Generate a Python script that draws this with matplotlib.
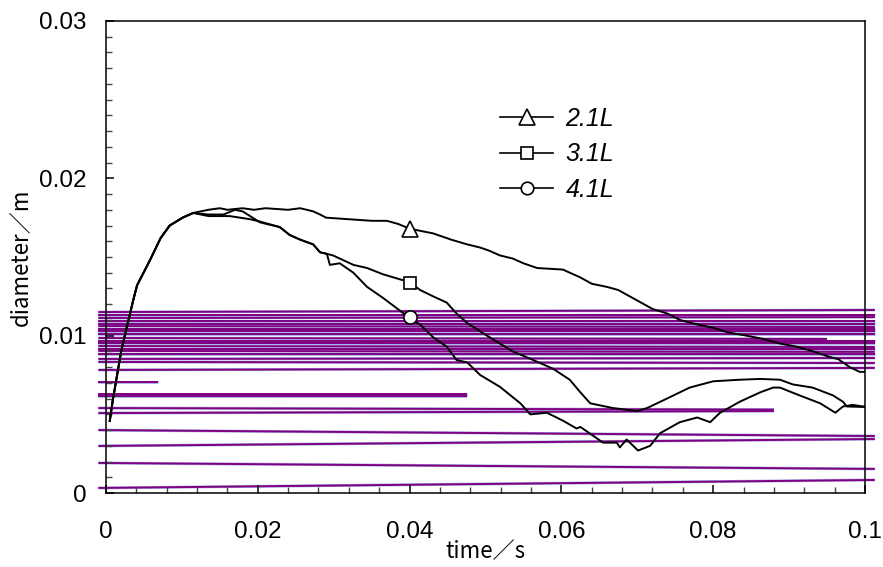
import matplotlib
matplotlib.use("Agg")
import matplotlib.pyplot as plt
from matplotlib.ticker import MultipleLocator, FuncFormatter

# ---- data ----
rise_t = [0.0005, 0.0009, 0.0020, 0.0036, 0.0041, 0.0058, 0.0072, 0.0084, 0.0101, 0.0115]
rise_d = [0.00458, 0.0059, 0.0090, 0.01227, 0.0132, 0.0148, 0.0162, 0.0170, 0.0175, 0.0178]

t_21 = rise_t + [0.0135, 0.0150, 0.0160, 0.0180, 0.0195, 0.0210, 0.0240, 0.0256, 0.0273, 0.0282,
                 0.0290, 0.0320, 0.0350, 0.0370, 0.0385, 0.0400, 0.0431, 0.0455, 0.0476, 0.0493,
                 0.0505, 0.0519, 0.0536, 0.0550, 0.0568, 0.0602, 0.0625, 0.0640, 0.0660, 0.0675,
                 0.0690, 0.0720, 0.0740, 0.0756, 0.0780, 0.0800, 0.0820, 0.0844, 0.0865, 0.0888,
                 0.0910, 0.0932, 0.0950, 0.0965, 0.0980, 0.0993, 0.1000]
d_21 = rise_d + [0.0180, 0.0181, 0.0180, 0.0181, 0.0180, 0.0181, 0.0180, 0.0181, 0.0179, 0.0177,
                 0.0175, 0.0174, 0.0173, 0.0173, 0.0171, 0.0168, 0.0165, 0.0161, 0.0158, 0.0156,
                 0.0154, 0.0151, 0.0149, 0.0146, 0.0143, 0.0142, 0.0137, 0.0133, 0.0131, 0.0129,
                 0.0125, 0.0117, 0.0114, 0.0110, 0.0107, 0.0105, 0.0102, 0.0100, 0.0098, 0.0095,
                 0.0093, 0.0090, 0.0087, 0.0085, 0.0080, 0.0077, 0.0077]

t_31 = rise_t + [0.0135, 0.0155, 0.0170, 0.0180, 0.0203, 0.0229, 0.0242, 0.0256, 0.0273, 0.0282,
                 0.0291, 0.0299, 0.0326, 0.0344, 0.0365, 0.0400, 0.0414, 0.0431, 0.0449, 0.0462,
                 0.0476, 0.0502, 0.0536, 0.0563, 0.0589, 0.0611, 0.0625, 0.0638, 0.0668, 0.0700,
                 0.0713, 0.0739, 0.0769, 0.0800, 0.0835, 0.0862, 0.0888, 0.0905, 0.0931, 0.0958,
                 0.0971, 0.0976, 0.0997, 0.1000]
d_31 = rise_d + [0.0177, 0.0177, 0.0180, 0.0179, 0.0172, 0.0169, 0.0164, 0.0161, 0.0158, 0.0153,
                 0.0152, 0.0151, 0.0145, 0.0143, 0.0139, 0.0134, 0.0129, 0.0125, 0.0121, 0.0114,
                 0.0108, 0.0100, 0.0090, 0.00845, 0.0079, 0.0072, 0.0064, 0.0057, 0.0054, 0.0052,
                 0.0054, 0.0060, 0.0067, 0.0071, 0.0072, 0.00725, 0.0072, 0.0069, 0.0067, 0.0062,
                 0.0058, 0.0055, 0.00547, 0.0055]

t_41 = rise_t + [0.0135, 0.0163, 0.0190, 0.0203, 0.0229, 0.0242, 0.0256, 0.0273, 0.0282, 0.0291,
                 0.0295, 0.0308, 0.0326, 0.0344, 0.0365, 0.0387, 0.0398, 0.0414, 0.0431, 0.0449,
                 0.0462, 0.0476, 0.0493, 0.0519, 0.0546, 0.0559, 0.0581, 0.0602, 0.0620, 0.0625,
                 0.0655, 0.0673, 0.0677, 0.0686, 0.0701, 0.0717, 0.0730, 0.0756, 0.0779, 0.0796,
                 0.0809, 0.0835, 0.0862, 0.0879, 0.0888, 0.0914, 0.0941, 0.0961, 0.0971, 0.0984,
                 0.0997, 0.1000]
d_41 = rise_d + [0.0176, 0.0176, 0.0174, 0.01725, 0.0169, 0.0164, 0.0161, 0.0158, 0.0153, 0.0152,
                 0.0145, 0.0146, 0.0140, 0.0131, 0.0124, 0.0116, 0.0112, 0.0107, 0.0099, 0.0093,
                 0.00845, 0.0083, 0.0075, 0.00675, 0.0057, 0.0050, 0.0051, 0.0046, 0.0041, 0.0042,
                 0.0032, 0.0032, 0.0029, 0.0034, 0.0027, 0.0030, 0.0038, 0.0045, 0.0048, 0.0045,
                 0.0051, 0.0058, 0.0064, 0.0067, 0.0067, 0.0062, 0.0057, 0.0051, 0.0055, 0.0056,
                 0.0055, 0.0055]

mark_t = [0.040, 0.040, 0.040]
mark_d = [0.0168, 0.01335, 0.0112]
series_labels = ["2.1L", "3.1L", "4.1L"]

# stray horizontal strokes that cross the reference picture
stroke_t0 = [-0.001] * 28
stroke_t1 = [0.1013] * 9 + [0.0950] + [0.1013] * 9 + [0.0069, 0.0476, 0.0476, 0.0880, 0.0880,
                                                          0.1013, 0.1013, 0.1013, 0.1013]
stroke_d0 = [0.01150, 0.01131, 0.01112, 0.01093, 0.01074, 0.01061, 0.01042, 0.01030, 0.01011,
             0.00985, 0.00966, 0.00953, 0.00934, 0.00915, 0.00903, 0.00883, 0.00852, 0.00833, 0.00782,
             0.00706, 0.00629, 0.00617, 0.00540, 0.00508, 0.00400, 0.00299, 0.00191, 0.00032]
stroke_d1 = [0.01163, 0.01131, 0.01118, 0.01093, 0.01074, 0.01055, 0.01042, 0.01030, 0.01011,
             0.00979, 0.00966, 0.00953, 0.00928, 0.00915, 0.00897, 0.00883, 0.00858, 0.00826, 0.00795,
             0.00706, 0.00629, 0.00617, 0.00530, 0.00521, 0.00362, 0.00343, 0.00153, 0.00083]

plt.rcParams['font.family'] = ['Liberation Sans', 'DejaVu Sans']
jp = ['Noto Sans CJK JP', 'DejaVu Sans']

fig = plt.figure(figsize=(8.83, 5.67), dpi=100)
ax = fig.add_axes([0.12, 0.1305, 0.8596, 0.8325])

for a, b, c, d in zip(stroke_t0, stroke_t1, stroke_d0, stroke_d1):
    ax.plot([a, b], [c, d], color='#aab4e8', lw=2.1, clip_on=False, zorder=1, solid_capstyle='butt')
    ax.plot([a, b], [c, d], color='#800080', lw=1.4, clip_on=False, zorder=1.1, solid_capstyle='butt')

markers = ['^', 's', 'o']
msizes = [12, 9, 9.5]
for t, d, lab, m, ms, mt, md in zip([t_21, t_31, t_41], [d_21, d_31, d_41], series_labels,
                                   markers, msizes, mark_t, mark_d):
    ax.plot(t, d, color='black', lw=1.4, zorder=3)
    ax.plot([mt], [md], ls='none', marker=m, ms=ms, mfc='white', mec='black', mew=1.2, zorder=4)
    ax.plot([], [], color='black', lw=1.2, marker=m, ms=ms * 0.95, mfc='white', mec='black',
            mew=1.2, label=lab)

ax.set_xlim(0, 0.1)
ax.set_ylim(0, 0.03)
ax.xaxis.set_major_locator(MultipleLocator(0.02))
ax.xaxis.set_minor_locator(MultipleLocator(0.004))
ax.yaxis.set_major_locator(MultipleLocator(0.01))
ax.yaxis.set_minor_locator(MultipleLocator(0.001))
fmt = FuncFormatter(lambda v, p: '%g' % round(v, 4))
ax.xaxis.set_major_formatter(fmt)
ax.yaxis.set_major_formatter(fmt)
ax.tick_params(which='both', direction='in', top=False, right=False, labelsize=17.5)
ax.tick_params(which='major', length=6, width=1.1)
ax.tick_params(which='minor', length=4, width=1.0, color='#444444')
ax.tick_params(axis='x', pad=20)
ax.tick_params(axis='y', pad=14)
for s in ax.spines.values():
    s.set_linewidth(1.1)

ax.set_xlabel('time／s', fontsize=16, family=jp, labelpad=-2)
ax.set_ylabel('diameter／m', fontsize=16, family=jp, labelpad=4)

leg = ax.legend(loc='upper left', bbox_to_anchor=(0.49, 0.865), frameon=False,
                prop={'style': 'italic', 'size': 18}, handlelength=2.1, labelspacing=0.45,
                handletextpad=0.5)

fig.savefig('out.png', dpi=100)
